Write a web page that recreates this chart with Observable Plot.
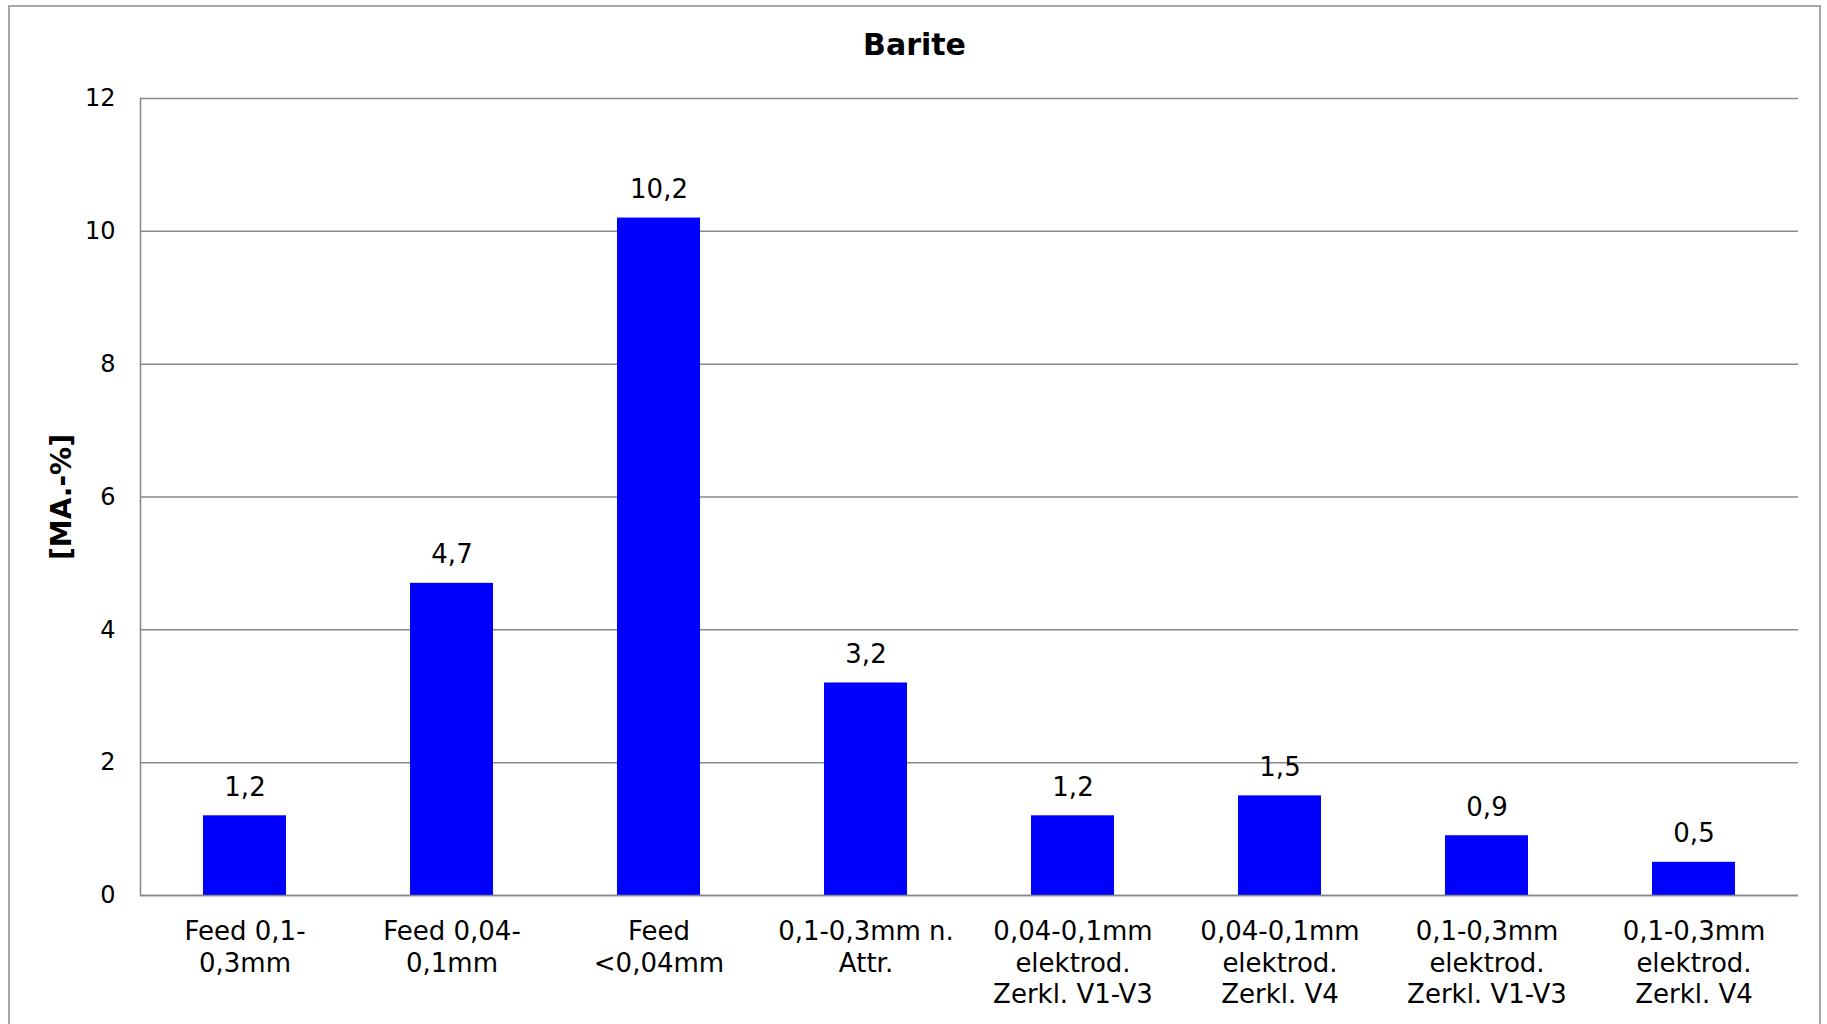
<!DOCTYPE html>
<html>
<head>
<meta charset="utf-8">
<script src="https://cdn.jsdelivr.net/npm/d3@7"></script>
<script src="https://cdn.jsdelivr.net/npm/@observablehq/plot@0.6"></script>
<style>
  html, body { margin: 0; padding: 0; background: #fff; overflow: hidden; }
  #frame {
    position: absolute; left: 8px; top: 5px;
    width: 1809px; height: 1100px;
    border: 2px solid #a6a6a6; border-bottom: none;
    background: #fff;
  }
  #title {
    font-family: "DejaVu Sans", sans-serif; font-weight: bold;
    font-size: 30px; line-height: 36px; padding-top: 20px;
    text-align: center; color: #000;
  }
  #chart svg { display: block; }
</style>
</head>
<body>
<div id="frame">
  <div id="title">Barite</div>
  <div id="chart"></div>
</div>
<script>
// Sample fractions (x categories) and barite content in mass-%
const categories = [
  "Feed 0,1-\n0,3mm",
  "Feed 0,04-\n0,1mm",
  "Feed\n<0,04mm",
  "0,1-0,3mm n.\nAttr.",
  "0,04-0,1mm\nelektrod.\nZerkl. V1-V3",
  "0,04-0,1mm\nelektrod.\nZerkl. V4",
  "0,1-0,3mm\nelektrod.\nZerkl. V1-V3",
  "0,1-0,3mm\nelektrod.\nZerkl. V4"
];
const values = [1.2, 4.7, 10.2, 3.2, 1.2, 1.5, 0.9, 0.5];
const yTicks = [0, 2, 4, 6, 8, 10, 12];
const yLabel = "[MA.-%]";

const rows = categories.map((c, i) => ({category: c, value: values[i]}));
const de = d3.formatLocale({decimal: ",", thousands: ".", grouping: [3], currency: ["", " €"]});
const fmt = de.format(".1f");

const chart = Plot.plot({
  width: 1809,
  height: 961,
  marginTop: 35,
  marginLeft: 130,
  marginRight: 21,
  marginBottom: 129,
  style: {fontFamily: "DejaVu Sans, sans-serif", color: "#000", background: "#fff", overflow: "visible"},
  x: {domain: categories, paddingInner: 0.6, paddingOuter: 0.3, label: null},
  y: {domain: [0, 12], label: null},
  marks: [
    Plot.gridY(yTicks, {stroke: "#888", strokeOpacity: 1, strokeWidth: 1.5}),
    Plot.frame({anchor: "left", stroke: "#888", strokeWidth: 1.5}),
    Plot.barY(rows, {x: "category", y: "value", fill: "#0000ff"}),
    Plot.ruleY([0], {stroke: "#888", strokeWidth: 1.5}),
    Plot.axisY(yTicks, {tickSize: 0, tickPadding: 25, fontSize: 24, tickFormat: d => String(d), label: null}),
    Plot.axisX({tickSize: 0, tickPadding: 22, fontSize: 26, lineHeight: 1.22, label: null}),
    Plot.text(rows, {x: "category", y: "value", text: d => fmt(d.value), lineAnchor: "bottom", dy: -20, fontSize: 26}),
    Plot.text([yLabel], {frameAnchor: "left", textAnchor: "middle", dx: -78, rotate: -90, fontWeight: "bold", fontSize: 28})
  ]
});
document.getElementById("chart").appendChild(chart);
</script>
</body>
</html>
